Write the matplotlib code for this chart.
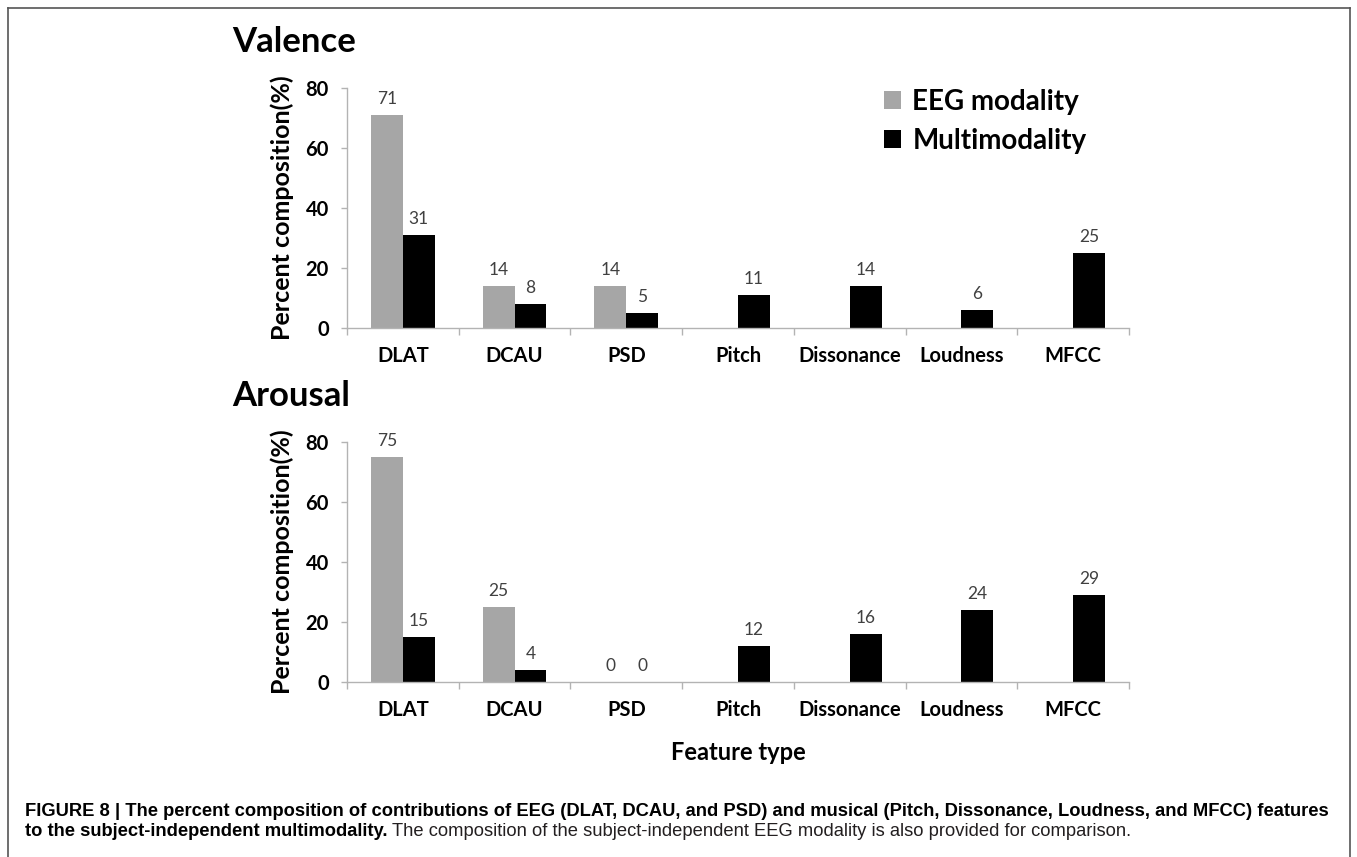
import numpy as np
import matplotlib
matplotlib.use("Agg")
import matplotlib.pyplot as plt
from matplotlib.lines import Line2D

# data
features = ["DLAT", "DCAU", "PSD", "Pitch", "Dissonance", "Loudness", "MFCC"]
valence_eeg = [71, 14, 14, None, None, None, None]
valence_multi = [31, 8, 5, 11, 14, 6, 25]
arousal_eeg = [75, 25, 0, None, None, None, None]
arousal_multi = [15, 4, 0, 12, 16, 24, 29]
yticks = [0, 20, 40, 60, 80]

W, H = 1357, 857
GRAY = "#a6a6a6"
AXCOL = "#b3b3b3"
chart_font = ["Lato", "DejaVu Sans"]
caption_font = ["Liberation Sans Narrow", "Liberation Sans", "DejaVu Sans"]

plt.rcParams["font.family"] = chart_font

fig = plt.figure(figsize=(W / 100, H / 100), dpi=100)


def px(x, y):
    # pixel position -> figure fraction
    return x / W, 1 - y / H


def panel(y_top, y_bottom, eeg, multi, title, show_legend):
    left, bottom = px(347, y_bottom)
    right, top = px(1129, y_top)
    ax = fig.add_axes([left, bottom, right - left, top - bottom])
    x = np.arange(len(features))
    w = 0.285

    eeg = np.array([np.nan if v is None else v for v in eeg], dtype=float)
    has = ~np.isnan(eeg)
    b1 = ax.bar(x[has] - w / 2, eeg[has], w, color=GRAY, label="EEG modality")
    b2 = ax.bar(x + w / 2, multi, w, color="black", label="Multimodality")
    for b in (b1, b2):
        ax.bar_label(b, fmt="%g", padding=6, fontsize=12.5, color="#404040")

    ax.set_xlim(-0.5, len(features) - 0.5)
    ax.set_ylim(0, 80)
    ax.set_yticks(yticks)
    ax.set_xticks(x)
    ax.set_xticklabels(features, fontsize=14.5, fontweight="bold")
    ax.set_xticks(np.arange(len(features) + 1) - 0.5, minor=True)
    ax.tick_params(axis="x", which="major", length=0, pad=13)
    ax.tick_params(axis="x", which="minor", length=5, color=AXCOL, width=1)
    ax.tick_params(axis="y", length=4, color=AXCOL, width=1, pad=9,
                   labelsize=14.5)
    for lab in ax.get_yticklabels():
        lab.set_fontweight("bold")
    for s in ("top", "right"):
        ax.spines[s].set_visible(False)
    for s in ("left", "bottom"):
        ax.spines[s].set_color(AXCOL)
        ax.spines[s].set_linewidth(1)
    ax.set_ylabel("Percent composition(%)", fontsize=18, fontweight="bold",
                  labelpad=8)

    tx, ty = px(232, y_top - 36)
    fig.text(tx, ty, title, fontsize=25, fontweight="bold", va="baseline")

    if show_legend:
        lx, ly = px(884, 89)
        fig.legend(handles=[b1, b2], loc="upper left", bbox_to_anchor=(lx, ly),
                   frameon=False, prop={"weight": "bold", "size": 20},
                   handlelength=0.62, handleheight=0.62, handletextpad=0.4,
                   labelspacing=0.47, borderpad=0, borderaxespad=0)
    return ax


panel(88, 328, valence_eeg, valence_multi, "Valence", True)
ax2 = panel(442, 682, arousal_eeg, arousal_multi, "Arousal", False)

fx, fy = px(738, 752)
fig.text(fx, fy, "Feature type", fontsize=17, fontweight="bold",
         ha="center", va="center")

# frame around the figure panel (open at the bottom)
for xs, ys in [((8, 8), (8, 870)), ((8, 1350), (8, 8)), ((1350, 1350), (8, 870))]:
    fig.add_artist(Line2D([v / W for v in xs], [1 - v / H for v in ys],
                          color="#555555", lw=1.2, transform=fig.transFigure))

# caption
cap_size = 13.25
c1x, c1y = px(25, 812)
fig.text(c1x, c1y, "FIGURE 8 | The percent composition of contributions of EEG "
         "(DLAT, DCAU, and PSD) and musical (Pitch, Dissonance, Loudness, and "
         "MFCC) features", family=caption_font, fontsize=cap_size,
         fontweight="bold", va="center")
c2x, c2y = px(25, 831)
t2 = fig.text(c2x, c2y, "to the subject-independent multimodality.",
              family=caption_font, fontsize=cap_size, fontweight="bold",
              va="center")
fig.canvas.draw()
ext = t2.get_window_extent()
fig.text((ext.x1 + 5) / W, c2y, "The composition of the subject-independent "
         "EEG modality is also provided for comparison.", family=caption_font,
         fontsize=cap_size, va="center", color="#231f20")

fig.savefig("out.png", dpi=100)
